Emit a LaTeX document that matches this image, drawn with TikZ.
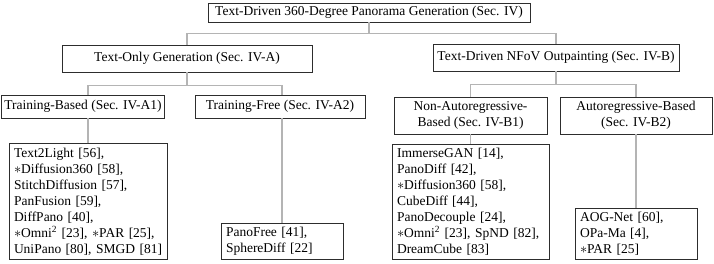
\documentclass[tikz,border=0pt]{standalone}
\usepackage{fontspec}
\setmainfont{Liberation Serif}
\usepackage{tikz}
\usetikzlibrary{positioning,calc}

\definecolor{boxline}{RGB}{45,45,45}
\definecolor{linkgray}{RGB}{180,180,180}

\begin{document}
\begin{tikzpicture}[x=1pt,y=-1pt,
  font=\fontsize{13.5}{16}\selectfont,
  box/.style={draw=boxline,line width=0.8pt,rectangle,inner sep=3pt,align=center},
  leaf/.style={draw=boxline,line width=0.8pt,rectangle,inner xsep=5pt,inner ysep=4.2pt,align=left,anchor=south},
  link/.style={draw=linkgray,line width=1.1pt}]
\useasboundingbox (0,0) rectangle (714,263);

% top level
\node[box,minimum width=322pt,minimum height=19pt] (root) at (369,12.5) {Text-Driven 360-Degree Panorama Generation (Sec. IV)};

% second level
\node[box,minimum width=250pt,minimum height=27pt] (tonly) at (187,58.5) {Text-Only Generation (Sec. IV-A)};
\node[box,minimum width=246pt,minimum height=27pt] (nfov) at (556,57.5) {Text-Driven NFoV Outpainting (Sec. IV-B)};

% third level
\node[box,minimum width=160pt,minimum height=23pt] (tbased) at (83,106.5) {Training-Based (Sec. IV-A1)};
\node[box,minimum width=170pt,minimum height=23pt] (tfree) at (280,106.5) {Training-Free (Sec. IV-A2)};
\node[box,minimum width=153pt,minimum height=37pt] (nonauto) at (470.5,115.5) {Non-Autoregressive-\\Based (Sec. IV-B1)};
\node[box,minimum width=152pt,minimum height=37pt] (autob) at (636,115.5) {Autoregressive-Based\\(Sec. IV-B2)};

% leaves
\node[leaf,text width=148pt] (tbleaf) at (88,260) {Text2Light [56],\\$\ast$Diffusion360 [58],\\StitchDiffusion [57],\\PanFusion [59],\\DiffPano [40],\\$\ast$Omni\textsuperscript{2}~[23],~$\ast$PAR~[25],\\UniPano~[80],~SMGD~[81]};
\node[leaf,text width=112pt] (tfleaf) at (282,260) {PanoFree [41],\\SphereDiff [22]};
\node[leaf,text width=147pt] (naleaf) at (470.5,260) {ImmerseGAN [14],\\PanoDiff [42],\\$\ast$Diffusion360 [58],\\CubeDiff [44],\\PanoDecouple [24],\\$\ast$Omni\textsuperscript{2}~[23],~SpND~[82],\\DreamCube [83]};
\node[leaf,text width=112pt] (arleaf) at (636,260) {AOG-Net [60],\\OPa-Ma [4],\\$\ast$PAR [25]};

% connectors
\draw[link] (root.south) -- ++(0,11) -| (tonly.north);
\draw[link] (root.south) -- ++(0,11) -| (nfov.north);
\draw[link] (tonly.south) -- ++(0,13) -| (tbleaf.north |- tbased.north);
\draw[link] (tonly.south) -- ++(0,13) -| (tfleaf.north |- tfree.north);
\draw[link] (nfov.south) -- ++(0,13) -| (naleaf.north |- nonauto.north);
\draw[link] (nfov.south) -- ++(0,13) -| (arleaf.north |- autob.north);
\draw[link] (tbleaf.north) -- (tbleaf.north |- tbased.south);
\draw[link] (tfleaf.north) -- (tfleaf.north |- tfree.south);
\draw[link] (naleaf.north) -- (naleaf.north |- nonauto.south);
\draw[link] (arleaf.north) -- (arleaf.north |- autob.south);
\end{tikzpicture}
\end{document}
